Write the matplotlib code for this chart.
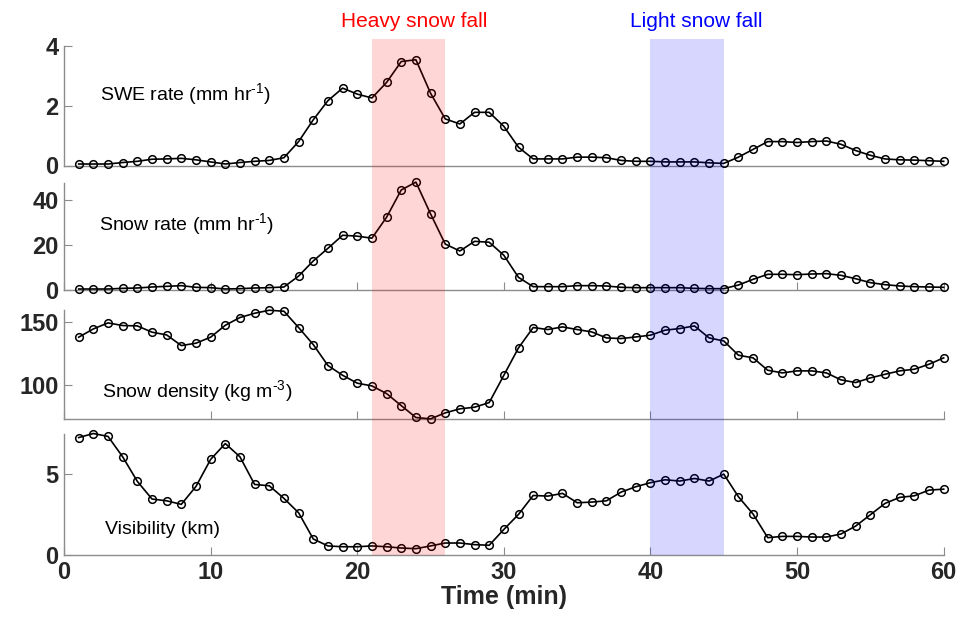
import matplotlib
matplotlib.use('Agg')
import matplotlib.pyplot as plt
import numpy as np

plt.rcParams['font.family'] = ['Liberation Sans', 'DejaVu Sans']
plt.rcParams['mathtext.fontset'] = 'custom'
plt.rcParams['mathtext.rm'] = 'Liberation Sans'

minutes = np.arange(1, 61)

swe_rate = [0.05, 0.05, 0.05, 0.10, 0.14, 0.21, 0.22, 0.24, 0.19, 0.12,
            0.05, 0.10, 0.14, 0.17, 0.26, 0.80, 1.53, 2.17, 2.59, 2.39,
            2.26, 2.78, 3.48, 3.54, 2.42, 1.56, 1.39, 1.78, 1.78, 1.31,
            0.61, 0.22, 0.22, 0.22, 0.28, 0.28, 0.26, 0.17, 0.14, 0.14,
            0.12, 0.12, 0.12, 0.09, 0.07, 0.28, 0.54, 0.80, 0.80, 0.77,
            0.80, 0.82, 0.71, 0.50, 0.34, 0.22, 0.19, 0.18, 0.16, 0.14]

snow_rate = [0.44, 0.44, 0.44, 0.74, 0.89, 1.33, 1.63, 1.93, 1.19, 1.04,
             0.44, 0.59, 0.89, 1.04, 1.33, 6.2, 12.9, 18.5, 24.3, 23.9,
             23.0, 32.3, 44.4, 47.9, 33.8, 20.4, 17.3, 21.6, 21.2, 15.4,
             5.6, 1.48, 1.48, 1.48, 1.93, 1.93, 1.78, 1.19, 1.04, 1.04,
             1.04, 1.04, 0.74, 0.59, 0.59, 2.22, 4.74, 6.96, 6.96, 6.8,
             7.1, 7.26, 6.5, 5.0, 3.26, 2.37, 1.78, 1.48, 1.33, 1.19]

snow_density = [137.8, 144.4, 149.2, 147.1, 146.8, 141.8, 139.6, 131.1, 133.0, 137.8,
                147.3, 153.5, 156.9, 159.3, 158.5, 145.5, 131.9, 115.2, 107.4, 101.1,
                98.9, 92.8, 83.2, 73.7, 72.6, 77.4, 80.6, 81.9, 85.6, 107.4,
                129.3, 145.5, 143.9, 146.0, 143.9, 142.0, 137.2, 136.7, 138.0, 139.4,
                143.4, 144.7, 146.8, 137.2, 134.8, 123.4, 121.3, 111.4, 109.3, 110.9,
                110.9, 109.3, 103.7, 101.6, 105.3, 108.2, 110.9, 112.2, 116.2, 121.3]

visibility = [7.28, 7.53, 7.35, 6.09, 4.57, 3.48, 3.37, 3.15, 4.26, 5.93,
              6.91, 6.09, 4.38, 4.30, 3.52, 2.63, 1.01, 0.58, 0.53, 0.53,
              0.58, 0.53, 0.45, 0.41, 0.58, 0.76, 0.76, 0.66, 0.62, 1.60,
              2.53, 3.70, 3.66, 3.83, 3.25, 3.29, 3.37, 3.91, 4.24, 4.49,
              4.67, 4.59, 4.75, 4.59, 5.02, 3.62, 2.55, 1.09, 1.17, 1.17,
              1.13, 1.13, 1.32, 1.81, 2.51, 3.21, 3.58, 3.68, 4.03, 4.09]

heavy_period = (21, 26)
light_period = (40, 45)

labels = ['SWE rate (mm hr$^{\\text{-1}}$)', 'Snow rate (mm hr$^{\\text{-1}}$)',
          'Snow density (kg m$^{\\text{-3}}$)', 'Visibility (km)']
series = [swe_rate, snow_rate, snow_density, visibility]
ylims = [(0, 4), (0, 47.5), (72.5, 159.5), (0, 7.5)]
yticks = [[0, 2, 4], [0, 20, 40], [100, 150], [0, 5]]

# layout (figure fraction)
left, width = 0.0667, 0.9163
boxes = [(0.7352, 0.1912), (0.5360, 0.1712), (0.3296, 0.1744), (0.1115, 0.1941)]
label_pos = [(0.104, 0.848), (0.103, 0.640), (0.106, 0.373), (0.109, 0.152)]

fig = plt.figure(figsize=(9.6, 6.25), dpi=100)
gray = '#8c8c8c'

for i, (vals, ylim, yt, (b, h)) in enumerate(zip(series, ylims, yticks, boxes)):
    ax = fig.add_axes([left, b, width, h])
    ax.patch.set_alpha(0)
    ax.plot(minutes, vals, '-o', color='black', lw=1.2, ms=5.5,
            mfc='none', mec='black', mew=1.1, clip_on=False, zorder=3)
    ax.set_xlim(0, 60)
    ax.set_ylim(*ylim)
    ax.set_yticks(yt)
    ax.set_xticks(range(0, 61, 10))
    for s in ['top', 'right']:
        ax.spines[s].set_visible(False)
    for s in ['left', 'bottom']:
        ax.spines[s].set_color(gray)
        ax.spines[s].set_linewidth(1.0)
    ax.tick_params(direction='in', color=gray, length=6, width=0.8,
                   labelsize=17, labelcolor='#262626', pad=4)
    for t in ax.get_yticklabels():
        t.set_fontweight('bold')
    if i == 0:
        ax.tick_params(axis='x', length=0)
    if i < 3:
        ax.set_xticklabels([])
    else:
        for t in ax.get_xticklabels():
            t.set_fontweight('bold')
        ax.set_xlabel('Time (min)', fontsize=18, fontweight='bold',
                      color='#262626', labelpad=1)

for label, (lx, ly) in zip(labels, label_pos):
    fig.text(lx, ly, label, fontsize=14, ha='left', va='center', color='black')

# shaded periods drawn over all panels
ov = fig.add_axes([left, 0.1115, width, 0.8261])
ov.set_xlim(0, 60)
ov.set_ylim(0, 1)
ov.axis('off')
ov.patch.set_alpha(0)
ov.axvspan(*heavy_period, color='red', alpha=0.16, lw=0, zorder=5)
ov.axvspan(*light_period, color='blue', alpha=0.16, lw=0, zorder=5)

fig.text(0.431, 0.966, 'Heavy snow fall', color='red', fontsize=15,
         ha='center', va='center')
fig.text(0.725, 0.966, 'Light snow fall', color='blue', fontsize=15,
         ha='center', va='center')

fig.savefig('out.png', dpi=100)
